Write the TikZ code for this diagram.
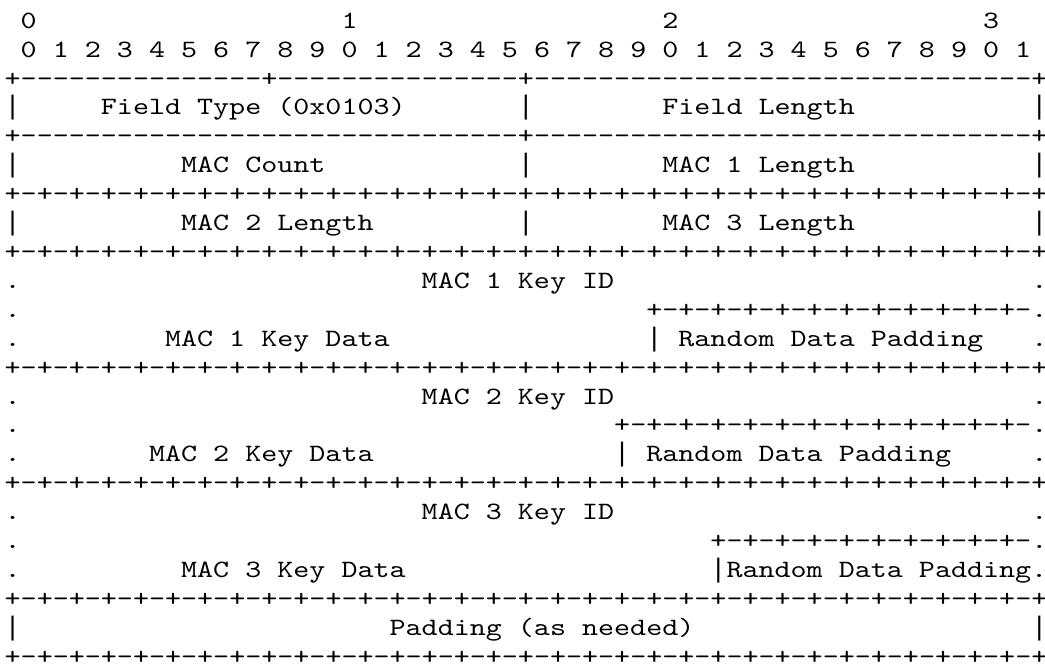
\documentclass[tikz,border=0pt]{standalone}
\usepackage{fontspec}
\setmonofont{lmmono10-regular}[Extension=.otf, FakeStretch=1.2254]
\newfontfamily\barfont{Liberation Mono}
\tikzset{cell/.style={anchor=base west, inner sep=0pt, outer sep=0pt,
  font=\ttfamily\fontsize{18.7pt}{22pt}\selectfont, text=black},
  barcell/.style={cell, font=\barfont\fontsize{20.05pt}{24pt}\selectfont}}
\newcommand\cellat[4]{\node[cell] (#1) at ({4.7+16.04*(#2)},{28.3+28.9*((#3)-1)}) {#4};}
\newcommand\barat[3]{\node[barcell] (#1) at ({4.7+16.04*(#2)},{28.3+28.9*((#3)-1)}) {|};}
\newcommand\fullrule{+-+-+-+-+-+-+-+-+-+-+-+-+-+-+-+-+-+-+-+-+-+-+-+-+-+-+-+-+-+-+-+-+}
\begin{document}
\begin{tikzpicture}[x=0.75pt,y=-0.75pt]
\fill[white] (0,0) rectangle (1045,670);
\useasboundingbox (0,0) rectangle (1045,670);
% header
\cellat{h0}{1}{1}{0}
\cellat{h1}{21}{1}{1}
\cellat{h2}{41}{1}{2}
\cellat{h3}{61}{1}{3}
\foreach \i in {0,...,31}{
  \pgfmathtruncatemacro\d{mod(\i,10)}
  \node[cell] (b\i) at ({4.7+16.04*(2*\i+1)},{28.3+28.9}) {\d};
}
% row 3-4
\cellat{r3}{0}{3}{+---------------+---------------+-------------------------------+}
\barat{r4a}{0}{4}
\cellat{ft}{6}{4}{Field Type (0x0103)}
\barat{r4b}{32}{4}
\cellat{fl}{41}{4}{Field Length}
\barat{r4c}{64}{4}
% row 5-6
\cellat{r5}{0}{5}{+-------------------------------+-------------------------------+}
\barat{r6a}{0}{6}
\cellat{mc}{11}{6}{MAC Count}
\barat{r6b}{32}{6}
\cellat{m1l}{41}{6}{MAC 1 Length}
\barat{r6c}{64}{6}
% row 7-8
\cellat{r7}{0}{7}{\fullrule}
\barat{r8a}{0}{8}
\cellat{m2l}{11}{8}{MAC 2 Length}
\barat{r8b}{32}{8}
\cellat{m3l}{41}{8}{MAC 3 Length}
\barat{r8c}{64}{8}
\cellat{r9}{0}{9}{\fullrule}
% MAC 1 key
\cellat{r10a}{0}{10}{.}
\cellat{k1id}{26}{10}{MAC 1 Key ID}
\cellat{r10b}{64}{10}{.}
\cellat{r11a}{0}{11}{.}
\cellat{r11b}{40}{11}{+-+-+-+-+-+-+-+-+-+-+-+-.}
\cellat{r12a}{0}{12}{.}
\cellat{k1d}{10}{12}{MAC 1 Key Data}
\barat{r12b}{40}{12}
\cellat{p1}{42}{12}{Random Data Padding}
\cellat{r12c}{64}{12}{.}
\cellat{r13}{0}{13}{\fullrule}
% MAC 2 key
\cellat{r14a}{0}{14}{.}
\cellat{k2id}{26}{14}{MAC 2 Key ID}
\cellat{r14b}{64}{14}{.}
\cellat{r15a}{0}{15}{.}
\cellat{r15b}{38}{15}{+-+-+-+-+-+-+-+-+-+-+-+-+-.}
\cellat{r16a}{0}{16}{.}
\cellat{k2d}{9}{16}{MAC 2 Key Data}
\barat{r16b}{38}{16}
\cellat{p2}{40}{16}{Random Data Padding}
\cellat{r16c}{64}{16}{.}
\cellat{r17}{0}{17}{\fullrule}
% MAC 3 key
\cellat{r18a}{0}{18}{.}
\cellat{k3id}{26}{18}{MAC 3 Key ID}
\cellat{r18b}{64}{18}{.}
\cellat{r19a}{0}{19}{.}
\cellat{r19b}{44}{19}{+-+-+-+-+-+-+-+-+-+-.}
\cellat{r20a}{0}{20}{.}
\cellat{k3d}{11}{20}{MAC 3 Key Data}
\barat{r20b}{44}{20}
\cellat{p3}{45}{20}{Random Data Padding.}
\cellat{r21}{0}{21}{\fullrule}
% padding
\barat{r22a}{0}{22}
\cellat{pad}{24}{22}{Padding (as needed)}
\barat{r22b}{64}{22}
\cellat{r23}{0}{23}{\fullrule}
\end{tikzpicture}
\end{document}
